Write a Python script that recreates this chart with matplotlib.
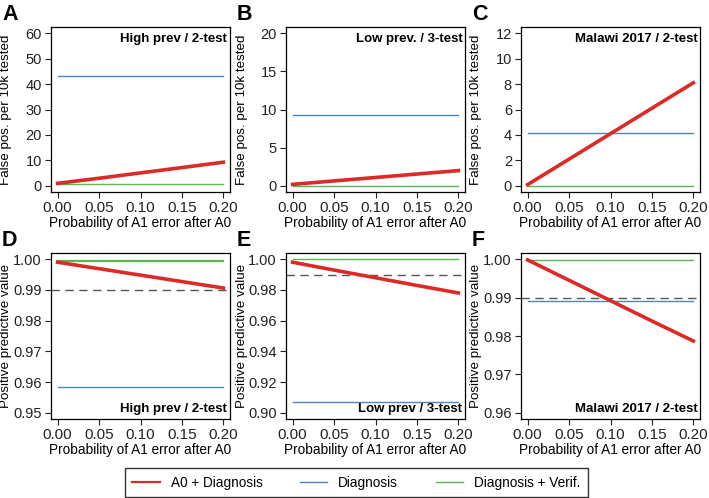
import matplotlib; matplotlib.use('Agg')

import matplotlib.pyplot as plt
import numpy as np

plt.rcParams['font.family'] = ['Liberation Sans', 'DejaVu Sans']

p_err = [0.00, 0.05, 0.10, 0.15, 0.20]

# false positives per 10k tested
fp_a0 = {'A': [1.0, 3.0, 5.1, 7.2, 9.3],
         'B': [0.2, 0.65, 1.1, 1.55, 2.0],
         'C': [0.1, 2.1, 4.1, 6.1, 8.1]}
fp_diag = {'A': 43.2, 'B': 9.3, 'C': 4.15}
fp_verif = {'A': 0.6, 'B': 0.05, 'C': 0.02}

# positive predictive value
ppv_a0 = {'D': [0.9990, 0.9969, 0.9948, 0.9927, 0.9906],
          'E': [0.9980, 0.9929, 0.9879, 0.9829, 0.9780],
          'F': [0.9998, 0.9945, 0.9892, 0.9839, 0.9787]}
ppv_diag = {'D': 0.9585, 'E': 0.907, 'F': 0.989}
ppv_verif = {'D': 0.9994, 'E': 0.9999, 'F': 0.9999}

titles = {'A': 'High prev / 2-test', 'B': 'Low prev. / 3-test', 'C': 'Malawi 2017 / 2-test',
          'D': 'High prev / 2-test', 'E': 'Low prev / 3-test', 'F': 'Malawi 2017 / 2-test'}
ylims = {'A': (0, 60), 'B': (0, 20), 'C': (0, 12),
         'D': (0.95, 1.00), 'E': (0.90, 1.00), 'F': (0.96, 1.00)}
yticks = {'A': np.arange(0, 61, 10), 'B': np.arange(0, 21, 5), 'C': np.arange(0, 13, 2),
          'D': np.arange(0.95, 1.001, 0.01), 'E': np.arange(0.90, 1.001, 0.02),
          'F': np.arange(0.96, 1.001, 0.01)}

RED = '#dc2a26'
BLUE = '#4a87c2'
GREEN = '#57b84c'

fig = plt.figure(figsize=(7.09, 4.98), dpi=100)
W, H = 709, 498
lefts = [51, 286, 521]
w = 179
rows = [(27, 192), (253, 419)]

def pad(lo, hi):
    d = (hi - lo) * 0.04
    return lo - d, hi + d

axes = {}
for r, letters in enumerate(['ABC', 'DEF']):
    top, bot = rows[r]
    for c, L in enumerate(letters):
        ax = fig.add_axes([lefts[c] / W, 1 - bot / H, w / W, (bot - top) / H])
        axes[L] = ax
        x = np.array(p_err)
        if r == 0:
            ax.plot(x, fp_a0[L], color=RED, lw=2.6, zorder=4)
            ax.plot([0, 0.2], [fp_diag[L]] * 2, color=BLUE, lw=1.0)
            ax.plot([0, 0.2], [fp_verif[L]] * 2, color=GREEN, lw=1.0)
            ax.set_ylabel('False pos. per 10k tested', fontsize=9.6)
            ax.text(0.985, 0.965, titles[L], transform=ax.transAxes, ha='right', va='top',
                    fontsize=9.5, fontweight='bold')
            ax.set_yticks(yticks[L])
            ax.set_yticklabels(['%d' % v for v in yticks[L]])
        else:
            ax.axhline(0.99, color='#555555', lw=1.0, ls=(0, (6, 4)))
            ax.plot(x, ppv_a0[L], color=RED, lw=2.6, zorder=4)
            ax.plot([0, 0.2], [ppv_diag[L]] * 2, color=BLUE, lw=1.0)
            ax.plot([0, 0.2], [ppv_verif[L]] * 2, color=GREEN, lw=1.6 if L == 'D' else 1.0)
            ax.set_ylabel('Positive predictive value', fontsize=9.6)
            ax.text(0.985, 0.025, titles[L], transform=ax.transAxes, ha='right', va='bottom',
                    fontsize=9.5, fontweight='bold')
            ax.set_yticks(yticks[L])
            ax.set_yticklabels(['%.2f' % v for v in yticks[L]])
        ax.yaxis.set_label_coords(-38.5 / w, 0.5)
        ax.set_xlim(pad(0, 0.2))
        ax.set_ylim(pad(*ylims[L]))
        ax.set_xticks(p_err)
        ax.set_xticklabels(['%.2f' % v for v in p_err])
        ax.set_xlabel('Probability of A1 error after A0', fontsize=9.8, labelpad=1)
        ax.tick_params(labelsize=10.5, length=4, width=0.8, pad=2.5, colors='#222222')
        ax.tick_params(axis='x', labelsize=11)
        for s in ax.spines.values():
            s.set_linewidth(0.9)
        fig.text((lefts[c] - 49) / W, 1 - (top - 13) / H, L, fontsize=15.5, fontweight='bold',
                 ha='left', va='center')

# legend
h1, = axes['A'].plot([], [], color=RED, lw=1.6, label='A0 + Diagnosis')
h2, = axes['A'].plot([], [], color=BLUE, lw=1.0, label='Diagnosis')
h3, = axes['A'].plot([], [], color=GREEN, lw=1.0, label='Diagnosis + Verif.')
leg = fig.legend(handles=[h1, h2, h3], loc='lower left', ncol=3, mode='expand',
                 bbox_to_anchor=(125 / W, 1 - 497 / H, 463 / W, 33 / H), fontsize=9.8,
                 frameon=True, fancybox=False, edgecolor='black', handlelength=2.0,
                 handletextpad=0.8, borderpad=0.55, borderaxespad=0)
leg.get_frame().set_linewidth(1.0)

plt.savefig('out.png', dpi=100)
